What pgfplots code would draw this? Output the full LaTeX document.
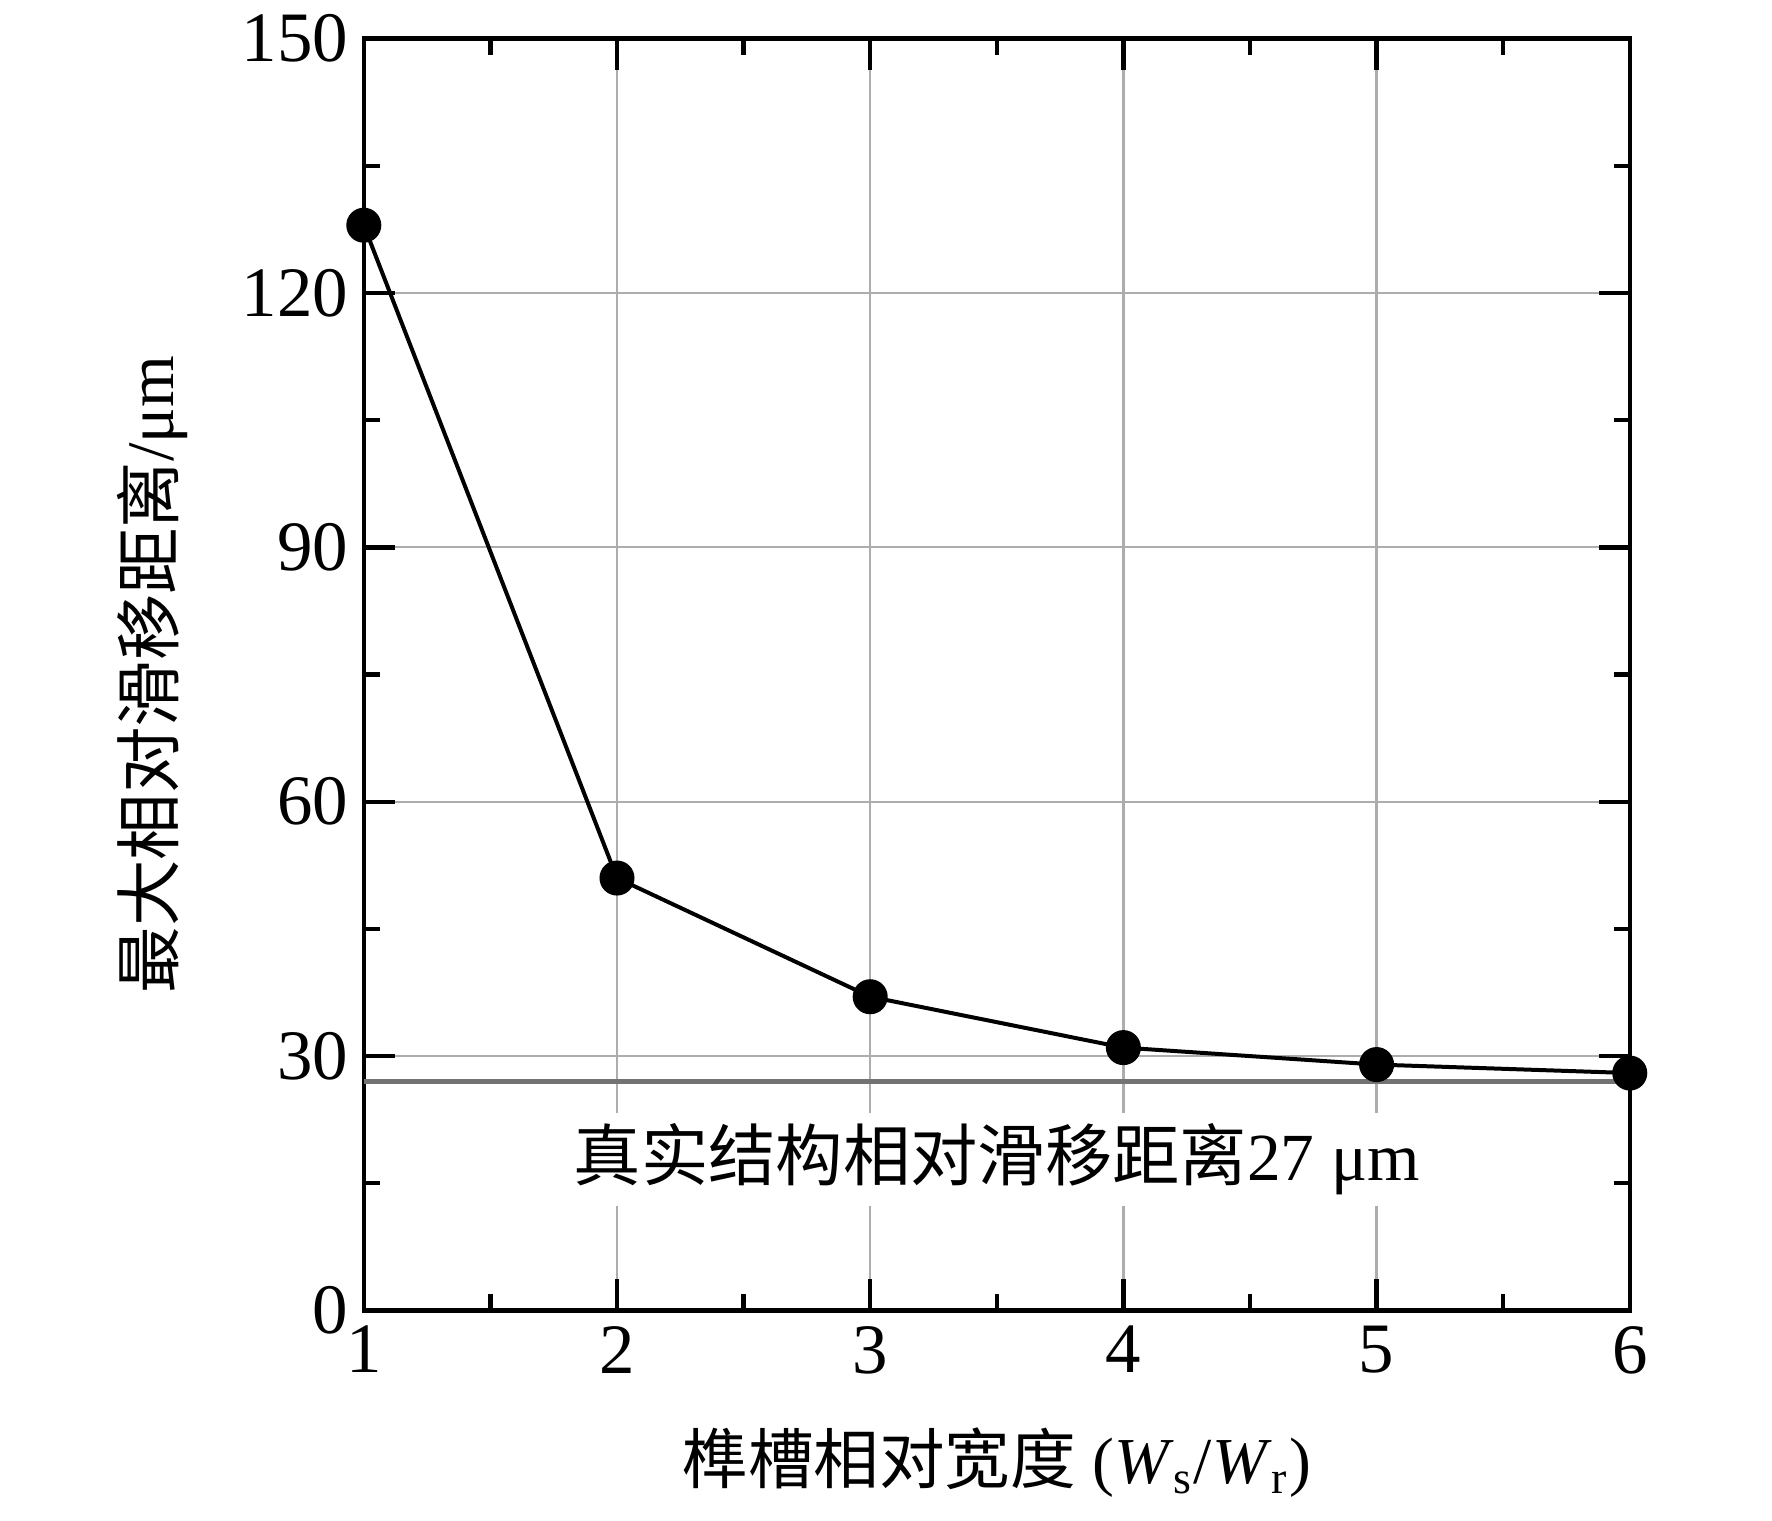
\documentclass[border=0pt]{standalone}
\usepackage{fontspec}
\setmainfont{Liberation Serif}
\newfontfamily\cjk{Noto Sans CJK SC}
\usepackage{pgfplots}
\pgfplotsset{compat=1.18}
\begin{document}
\begin{tikzpicture}
\begin{axis}[name=ax, scale only axis, width=285.7pt, height=287pt,
  xmin=1, xmax=6, ymin=0, ymax=150,
  xtick={1,2,3,4,5,6}, ytick={0,30,60,90,120,150},
  minor x tick num=1, minor y tick num=1,
  tick align=inside, major tick length=7pt, minor tick length=3.6pt,
  xmajorgrids, ymajorgrids, grid style={black!32, line width=0.5pt},
  axis line style={line width=1pt},
  every tick/.style={black, line width=1pt},
  tick label style={font=\fontsize{16}{19}\selectfont},
  /pgf/number format/assume math mode=true,
  clip=false,
  every axis x label/.style={at={(axis description cs:0.5,-0.12)}, anchor=center, font=\fontsize{14.8}{18}\selectfont},
  every axis y label/.style={at={(axis description cs:-0.167,0.5)}, rotate=90, anchor=center, font=\fontsize{15}{18}\selectfont},
  xlabel={{\cjk 榫槽相对宽度} (\textit{W}\textsubscript{s}/\textit{W}\textsubscript{r})},
  ylabel={{\cjk 最大相对滑移距离}/μm},
]
\addplot[black!55, line width=1pt, forget plot] coordinates {(1,27) (6,27)};
\node[fill=white, inner xsep=4pt, inner ysep=2.5pt, font=\fontsize{15.2}{18}\selectfont] at (axis cs:3.5,17.8) {{\cjk 真实结构相对滑移距离}27 μm};
\addplot[black, line width=0.9pt, mark=*, mark size=3.5pt, mark options={fill=black}]
  coordinates {(1,128) (2,51) (3,37) (4,31) (5,29) (6,28)};
\end{axis}
\path (ax.south west) ++(-82.1pt,-47.4pt);
\path (ax.north east) ++(32.1pt,7.65pt);
\end{tikzpicture}
\end{document}
